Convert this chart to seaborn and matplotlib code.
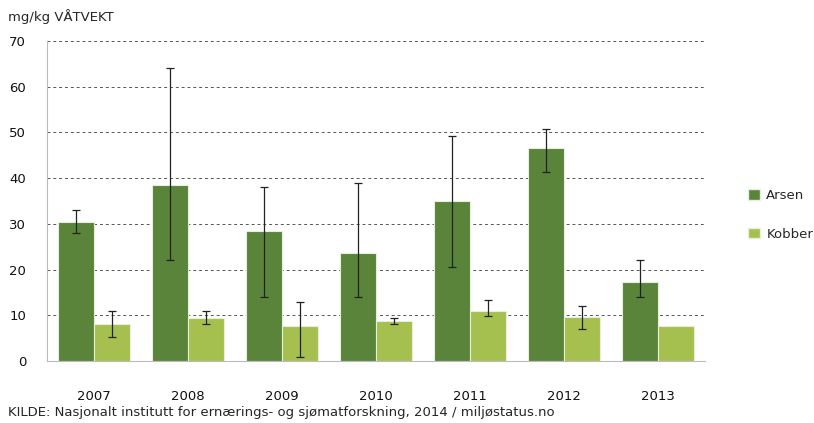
import matplotlib
matplotlib.use("Agg")
import matplotlib.pyplot as plt
import numpy as np
import pandas as pd
import seaborn as sns

years = ["2007", "2008", "2009", "2010", "2011", "2012", "2013"]
arsen = [30.5, 38.4, 28.4, 23.6, 35.0, 46.5, 17.3]
arsen_low = [28.1, 22.1, 14.1, 14.1, 20.6, 41.4, 14.1]
arsen_high = [33.1, 64.2, 38.1, 38.9, 49.3, 50.8, 22.1]
kobber = [8.1, 9.5, 7.7, 8.8, 11.0, 9.6, 7.7]
kobber_low = [5.2, 8.0, 0.9, 8.2, 9.9, 6.9, np.nan]
kobber_high = [11.0, 11.0, 13.0, 9.3, 13.3, 12.0, np.nan]

series = ["Arsen", "Kobber"]
colors = ["#5a843a", "#a6c04f"]

df = pd.DataFrame({
    "year": years * 2,
    "value": arsen + kobber,
    "serie": ["Arsen"] * len(years) + ["Kobber"] * len(years),
})

sns.set_style("white")
plt.rcParams["font.family"] = ["DejaVu Sans"]

fig = plt.figure(figsize=(8.14, 4.23), dpi=100)
ax = fig.add_axes([47 / 814, 62 / 423, 658 / 814, 320 / 423])

sns.barplot(data=df, x="year", y="value", hue="serie", palette=colors,
            saturation=1, width=0.77, gap=0, errorbar=None,
            edgecolor="#e8eedd", linewidth=0.8, ax=ax, legend=False)

# error bars placed at the centres of the seaborn bars
lows = [arsen_low, kobber_low]
highs = [arsen_high, kobber_high]
for cont, lo, hi in zip(ax.containers, lows, highs):
    for bar, l, h in zip(cont, lo, hi):
        if np.isnan(l):
            continue
        xc = bar.get_x() + bar.get_width() / 2
        ax.vlines(xc, l, h, color="#222222", linewidth=0.9, zorder=4)
        cw = 0.045
        ax.hlines([l, h], xc - cw, xc + cw, color="#222222", linewidth=0.9, zorder=4)

ax.set_ylim(0, 70)
ax.set_xlim(-0.5, len(years) - 0.5)
ax.set_yticks(range(0, 71, 10))
ax.yaxis.grid(True, linestyle=(0, (3, 3)), color="#555555", linewidth=0.7)
ax.set_axisbelow(True)
ax.set_xlabel("")
ax.set_ylabel("")
for s in ["top", "right"]:
    ax.spines[s].set_visible(False)
ax.spines["left"].set_color("#bbbbbb")
ax.spines["bottom"].set_color("#bbbbbb")
ax.tick_params(axis="both", length=0, labelsize=9.5, colors="#111111")
ax.tick_params(axis="x", pad=21)
ax.tick_params(axis="y", pad=15)

handles = [plt.Rectangle((0, 0), 1, 1, facecolor=c, edgecolor="#e8eedd") for c in colors]
fig.legend(handles, series, loc="center left", bbox_to_anchor=(736 / 814, 1 - 215 / 423),
           frameon=False, fontsize=9.5, handlelength=0.9, handleheight=0.9,
           handletextpad=0.5, labelspacing=1.9)

fig.text(8 / 814, 1 - 17 / 423, "mg/kg VÅTVEKT", fontsize=9.5, va="center", ha="left")
fig.text(8 / 814, 1 - 412 / 423,
         "KILDE: Nasjonalt institutt for ernærings- og sjømatforskning, 2014 / miljøstatus.no",
         fontsize=9.5, va="center", ha="left")

fig.savefig("out.png", dpi=100)
